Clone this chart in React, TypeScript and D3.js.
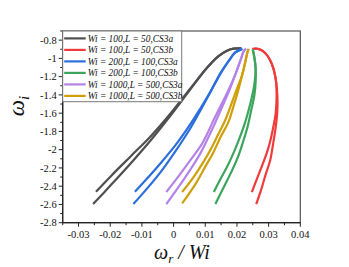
import React from "react";
import * as d3 from "d3";

// chart values
const X_TICKS = [-0.03, -0.02, -0.01, 0, 0.01, 0.02, 0.03, 0.04];
const X_MINOR = [-0.035, -0.025, -0.015, -0.005, 0.005, 0.015, 0.025, 0.035];
const Y_TICKS = [-2.8, -2.6, -2.4, -2.2, -2, -1.8, -1.6, -1.4, -1.2, -1, -0.8];
const Y_MINOR = [-2.7, -2.5, -2.3, -2.1, -1.9, -1.7, -1.5, -1.3, -1.1, -0.9, -0.7];

const LABELS = [
  "Wi = 100,L = 50,CS3a",
  "Wi = 100,L = 50,CS3b",
  "Wi = 200,L = 100,CS3a",
  "Wi = 200,L = 100,CS3b",
  "Wi = 1000,L = 500,CS3a",
  "Wi = 1000,L = 500,CS3b",
];
const COLORS = ["#4f4f4f", "#f03b3b", "#2b6fdc", "#3ba55c", "#b583e8", "#cf9f0b"];

// each series has two branches, [omega_r / Wi, omega_i]
const grayLo = [[-0.0254, -2.596], [-0.0198, -2.388], [-0.0135, -2.148], [-0.0072, -1.896], [-0.0009, -1.623], [0.0053, -1.339], [0.0107, -1.098], [0.0141, -0.978], [0.0167, -0.918], [0.0189, -0.894], [0.0214, -0.891]];
const grayHi = [[-0.0245, -2.461], [-0.0198, -2.29], [-0.0135, -2.071], [-0.0072, -1.852], [-0.0009, -1.601], [0.0053, -1.328], [0.0107, -1.098], [0.0141, -0.978], [0.0167, -0.918], [0.0189, -0.894], [0.0214, -0.891]];

const redLo = [[0.0261, -2.596], [0.0277, -2.432], [0.0291, -2.268], [0.0305, -2.115], [0.0314, -1.94], [0.0322, -1.765], [0.0327, -1.601], [0.0328, -1.459], [0.0326, -1.328], [0.0322, -1.219], [0.0315, -1.11], [0.0304, -1.015], [0.0289, -0.942], [0.0273, -0.902], [0.0258, -0.892], [0.0249, -0.897]];
const redHi = [[0.0247, -2.464], [0.0264, -2.311], [0.028, -2.169], [0.0294, -2.038], [0.0305, -1.907], [0.0314, -1.765], [0.0322, -1.612], [0.0325, -1.459], [0.0325, -1.328], [0.0322, -1.219], [0.0315, -1.11], [0.0304, -1.015], [0.0289, -0.942], [0.0273, -0.902], [0.0258, -0.892], [0.0249, -0.897]];

const blueLo = [[-0.0127, -2.596], [-0.0088, -2.443], [-0.0041, -2.246], [0.0006, -2.016], [0.0053, -1.765], [0.0085, -1.568], [0.0119, -1.35], [0.0148, -1.164], [0.0173, -1.033], [0.0195, -0.934], [0.0217, -0.896]];
const blueHi = [[-0.0122, -2.461], [-0.0088, -2.333], [-0.0041, -2.148], [0.0006, -1.951], [0.0053, -1.721], [0.0085, -1.546], [0.0119, -1.35], [0.0148, -1.164], [0.0173, -1.033], [0.0195, -0.934], [0.0217, -0.896]];

const greenLo = [[0.0132, -2.596], [0.0157, -2.421], [0.0182, -2.246], [0.0203, -2.082], [0.022, -1.907], [0.0234, -1.743], [0.0245, -1.568], [0.0255, -1.404], [0.0259, -1.262], [0.0259, -1.109], [0.0255, -0.989], [0.025, -0.902]];
const greenHi = [[0.0127, -2.464], [0.0148, -2.322], [0.017, -2.18], [0.0189, -2.038], [0.0207, -1.885], [0.0223, -1.732], [0.0236, -1.579], [0.0247, -1.426], [0.0255, -1.284], [0.0259, -1.109], [0.0255, -0.989], [0.025, -0.902]];

const purpleLo = [[-0.0023, -2.596], [0.0022, -2.377], [0.006, -2.18], [0.0085, -2.038], [0.011, -1.863], [0.0132, -1.699], [0.0154, -1.525], [0.0176, -1.35], [0.0195, -1.175], [0.0211, -1.022], [0.0223, -0.913], [0.0229, -0.896]];
const purpleHi = [[-0.0023, -2.464], [0.0016, -2.29], [0.0053, -2.115], [0.0085, -1.962], [0.0107, -1.82], [0.0129, -1.656], [0.0151, -1.503], [0.0173, -1.35], [0.0195, -1.175], [0.0211, -1.022], [0.0223, -0.913], [0.0229, -0.896]];

const goldLo = [[0.0027, -2.588], [0.0069, -2.377], [0.0101, -2.18], [0.0126, -2.027], [0.0148, -1.863], [0.0173, -1.699], [0.0189, -1.525], [0.0204, -1.35], [0.0217, -1.175], [0.0226, -1.044], [0.0233, -0.934], [0.0237, -0.896]];
const goldHi = [[0.0027, -2.464], [0.0063, -2.3], [0.0094, -2.137], [0.0119, -1.984], [0.0141, -1.831], [0.0163, -1.677], [0.0182, -1.503], [0.0198, -1.35], [0.0217, -1.175], [0.0226, -1.044], [0.0233, -0.934], [0.0237, -0.896]];

const SERIES = [
  [grayLo, grayHi],
  [redLo, redHi],
  [blueLo, blueHi],
  [greenLo, greenHi],
  [purpleLo, purpleHi],
  [goldLo, goldHi],
];

const width = 349;
const height = 267;
const plot = { left: 62.7, right: 300.3, top: 31, bottom: 222.7 };
const serif = "'Liberation Serif', 'Times New Roman', Times, serif";

export default function App() {
  const x = d3.scaleLinear().domain([-0.035, 0.04]).range([plot.left, plot.right]);
  const y = d3.scaleLinear().domain([-2.8, -0.7]).range([plot.bottom, plot.top]);

  const line = d3.line<number[]>()
    .x(d => x(d[0]))
    .y(d => y(d[1]))
    .curve(d3.curveCatmullRom);

  // legend box
  const lg = { x: plot.left, y: plot.top, w: 119, h: 70.7, row0: 7.4, step: 11.5 };

  return (
    <svg width={width} height={height} style={{ position: "absolute", left: 0, top: 0, background: "#fff" }}>
      {/* curves */}
      <g fill="none" strokeWidth={2.2}>
        {SERIES.map((branches, i) =>
          branches.map((pts, j) => (
            <path key={i + "-" + j} d={line(pts) || ""} stroke={COLORS[i]} />
          ))
        )}
      </g>

      {/* frame */}
      <rect x={plot.left} y={plot.top} width={plot.right - plot.left} height={plot.bottom - plot.top}
        fill="none" stroke="#555" strokeWidth={1.2} />
      <line x1={plot.left} x2={plot.left} y1={plot.top} y2={plot.bottom} stroke="#222" strokeWidth={1.2} />
      <line x1={plot.left} x2={plot.right} y1={plot.bottom} y2={plot.bottom} stroke="#222" strokeWidth={1.2} />

      {/* ticks */}
      <g stroke="#222" strokeWidth={1}>
        {X_TICKS.map(t => <line key={"xt" + t} x1={x(t)} x2={x(t)} y1={plot.bottom} y2={plot.bottom + 4} />)}
        {X_MINOR.map(t => <line key={"xm" + t} x1={x(t)} x2={x(t)} y1={plot.bottom} y2={plot.bottom + 2.5} />)}
        {Y_TICKS.map(t => <line key={"yt" + t} x1={plot.left - 4} x2={plot.left} y1={y(t)} y2={y(t)} />)}
        {Y_MINOR.map(t => <line key={"ym" + t} x1={plot.left - 2.5} x2={plot.left} y1={y(t)} y2={y(t)} />)}
      </g>
      <g style={{ fontFamily: serif }} fontSize={10.5} fill="#111">
        {X_TICKS.map(t => (
          <text key={"xl" + t} x={x(t)} y={plot.bottom + 15} textAnchor="middle">{String(t)}</text>
        ))}
        {Y_TICKS.map(t => (
          <text key={"yl" + t} x={plot.left - 6} y={y(t)} dy="0.35em" textAnchor="end">{String(t)}</text>
        ))}
      </g>

      {/* axis titles */}
      <text x={182} y={259} textAnchor="middle" style={{ fontFamily: serif }} fontStyle="italic" fontSize={20} fill="#111">
        ω<tspan fontSize={13} dy={4}>r</tspan><tspan dy={-4}> / Wi</tspan>
      </text>
      <text transform="translate(24,106) rotate(-90)" textAnchor="middle" style={{ fontFamily: serif }} fontStyle="italic" fontSize={23} fill="#111">
        ω<tspan fontSize={15} dy={5}>i</tspan>
      </text>

      {/* legend */}
      <g>
        <rect x={lg.x} y={lg.y} width={lg.w} height={lg.h} fill="#fff" stroke="#777" strokeWidth={1} />
        {LABELS.map((name, i) => {
          const cy = lg.y + lg.row0 + i * lg.step;
          return (
            <g key={name}>
              <line x1={lg.x + 1.5} x2={lg.x + 23} y1={cy} y2={cy} stroke={COLORS[i]} strokeWidth={2.2} />
              <text x={lg.x + 25} y={cy} dy="0.35em" style={{ fontFamily: serif }} fontStyle="italic" fontSize={9.4} fill="#111">{name}</text>
            </g>
          );
        })}
      </g>
    </svg>
  );
}
